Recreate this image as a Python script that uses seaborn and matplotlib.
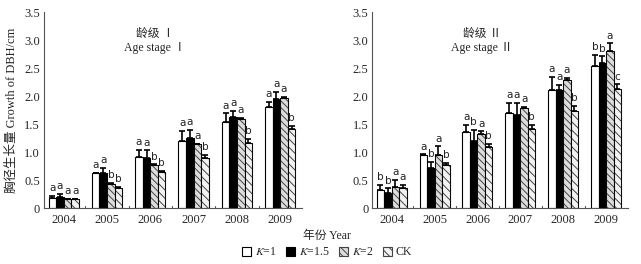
import numpy as np
import pandas as pd
import matplotlib
matplotlib.use("Agg")
import matplotlib.pyplot as plt
import seaborn as sns
from matplotlib.patches import Patch
from matplotlib.container import BarContainer

years = ["2004", "2005", "2006", "2007", "2008", "2009"]
treatments = ["K=1", "K=1.5", "K=2", "CK"]

# Age stage I
s1_k1 = [0.18, 0.62, 0.92, 1.20, 1.53, 1.80]
s1_k15 = [0.20, 0.62, 0.90, 1.26, 1.63, 1.95]
s1_k2 = [0.16, 0.43, 0.76, 1.14, 1.59, 1.96]
s1_ck = [0.16, 0.36, 0.65, 0.89, 1.16, 1.41]
s1_k1_se = [0.03, 0.01, 0.12, 0.18, 0.16, 0.09]
s1_k15_se = [0.05, 0.10, 0.13, 0.14, 0.10, 0.12]
s1_k2_se = [0.01, 0.02, 0.02, 0.01, 0.02, 0.03]
s1_ck_se = [0.01, 0.02, 0.02, 0.06, 0.08, 0.06]
s1_k1_let = ["a", "a", "a", "a", "a", "a"]
s1_k15_let = ["a", "a", "a", "a", "a", "a"]
s1_k2_let = ["a", "b", "b", "a", "a", "a"]
s1_ck_let = ["a", "b", "b", "b", "b", "b"]

# Age stage II
s2_k1 = [0.32, 0.95, 1.36, 1.70, 2.11, 2.54]
s2_k15 = [0.27, 0.71, 1.20, 1.67, 2.10, 2.59]
s2_k2 = [0.37, 0.94, 1.33, 1.79, 2.28, 2.81]
s2_ck = [0.35, 0.77, 1.09, 1.41, 1.73, 2.12]
s2_k1_se = [0.10, 0.01, 0.12, 0.18, 0.23, 0.19]
s2_k15_se = [0.08, 0.11, 0.20, 0.21, 0.10, 0.12]
s2_k2_se = [0.13, 0.16, 0.04, 0.01, 0.04, 0.13]
s2_ck_se = [0.06, 0.04, 0.06, 0.07, 0.10, 0.09]
s2_k1_let = ["b", "a", "a", "a", "a", "b"]
s2_k15_let = ["b", "b", "b", "a", "a", "b"]
s2_k2_let = ["a", "a", "a", "a", "a", "a"]
s2_ck_let = ["a", "b", "b", "b", "b", "c"]

panels = [
    ("龄级 Ⅰ", "Age stage Ⅰ",
     [s1_k1, s1_k15, s1_k2, s1_ck], [s1_k1_se, s1_k15_se, s1_k2_se, s1_ck_se],
     [s1_k1_let, s1_k15_let, s1_k2_let, s1_ck_let]),
    ("龄级 Ⅱ", "Age stage Ⅱ",
     [s2_k1, s2_k15, s2_k2, s2_ck], [s2_k1_se, s2_k15_se, s2_k2_se, s2_ck_se],
     [s2_k1_let, s2_k15_let, s2_k2_let, s2_ck_let]),
]

sns.set_style("white")
plt.rcParams["font.family"] = ["Liberation Serif", "Noto Sans CJK SC", "DejaVu Sans"]
plt.rcParams["mathtext.fontset"] = "stix"
plt.rcParams["hatch.linewidth"] = 0.7
plt.rcParams["axes.unicode_minus"] = False

faces = ["white", "black", "#dddddd", "#f2f2f2"]
hatches = [None, None, "\\\\\\\\\\", "\\\\\\\\"]
hatch_cols = [None, None, "#444444", "#444444"]

fig = plt.figure(figsize=(6.41, 2.64), dpi=100)
axes = [fig.add_axes([0.069, 0.212, 0.402, 0.742]),
        fig.add_axes([0.581, 0.212, 0.398, 0.742])]

for ax, (t_cn, t_en, vals, ses, lets) in zip(axes, panels):
    rows = []
    for ti, t in enumerate(treatments):
        for yi, y in enumerate(years):
            rows.append({"year": y, "treat": t, "val": vals[ti][yi]})
    df = pd.DataFrame(rows)
    sns.barplot(data=df, x="year", y="val", hue="treat", order=years,
                hue_order=treatments, ax=ax, width=0.7, errorbar=None,
                legend=False, linewidth=0.8, edgecolor="black")
    bar_conts = [c for c in ax.containers if isinstance(c, BarContainer)]
    for ti, cont in enumerate(bar_conts):
        xs, tops = [], []
        for bi, p in enumerate(cont.patches):
            p.set_facecolor(faces[ti])
            p.set_edgecolor("black")
            p.set_linewidth(0.8)
            if hatches[ti]:
                p.set_hatch(hatches[ti])
                p.set_edgecolor(hatch_cols[ti])
            xs.append(p.get_x() + p.get_width() / 2)
            tops.append(p.get_height())
        xs = np.array(xs)
        tops = np.array(tops)
        err = np.array(ses[ti])
        if hatches[ti]:
            for p in list(cont.patches):
                ax.add_patch(plt.Rectangle((p.get_x(), 0), p.get_width(), p.get_height(),
                                           fill=False, edgecolor="black", linewidth=0.6))
        ax.errorbar(xs, tops, yerr=[np.zeros_like(err), err], fmt="none",
                    ecolor="black", elinewidth=1.2, capsize=2.5, capthick=1.2)
        for x, top, e, lt in zip(xs, tops, err, lets[ti]):
            ax.text(x, top + e + 0.05, lt, ha="center", va="bottom",
                    fontsize=7.5, family="DejaVu Sans", color="#222222")
    ax.set_ylim(0, 3.5)
    ax.set_xlim(-0.45, 5.5)
    ax.set_yticks(np.arange(0, 3.51, 0.5))
    ax.set_yticklabels(["0", "0.5", "1.0", "1.5", "2.0", "2.5", "3.0", "3.5"], fontsize=9)
    ax.set_xticks(range(6))
    ax.set_xticklabels(years, fontsize=9)
    ax.tick_params(axis="x", length=0, pad=4)
    ax.tick_params(axis="y", direction="in", length=3, width=0.8, pad=3, color="#555555")
    for b in np.arange(0.5, 5.0, 1.0):
        ax.plot([b, b], [0, 0.04], color="#555555", lw=0.8, clip_on=False)
    ax.set_xlabel("")
    ax.set_ylabel("")
    for s in ["top", "right"]:
        ax.spines[s].set_visible(False)
    for s in ["left", "bottom"]:
        ax.spines[s].set_color("#555555")
        ax.spines[s].set_linewidth(0.8)
    ax.text(0.43, 0.89, t_cn, transform=ax.transAxes, ha="center", va="center", fontsize=8.5)
    ax.text(0.43, 0.815, t_en, transform=ax.transAxes, ha="center", va="center", fontsize=8.5)

fig.text(0.018, 0.583, "胸径生长量 Growth of DBH/cm", rotation=90, ha="center", va="center", fontsize=9)
fig.text(0.51, 0.105, "年份 Year", ha="center", va="center", fontsize=8.5)

handles = []
labels = ["$K$=1", "$K$=1.5", "$K$=2", "CK"]
for ti in range(4):
    if hatches[ti]:
        handles.append(Patch(facecolor=faces[ti], edgecolor=hatch_cols[ti], hatch=hatches[ti], linewidth=0.8))
    else:
        handles.append(Patch(facecolor=faces[ti], edgecolor="black", linewidth=0.8))
fig.legend(handles, labels, loc="center", bbox_to_anchor=(0.51, 0.045), ncol=4,
           frameon=False, fontsize=8.5, handlelength=0.8, handleheight=0.8,
           handletextpad=0.3, columnspacing=0.8)

fig.savefig("out.png", dpi=100)
